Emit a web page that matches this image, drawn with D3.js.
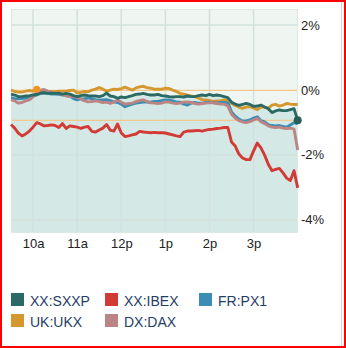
<!DOCTYPE html>
<html>
<head>
<meta charset="utf-8">
<script src="https://cdn.jsdelivr.net/npm/d3@7"></script>
<style>
  html, body { margin: 0; padding: 0; background: #fff; }
  svg { display: block; font-family: Arial, "Liberation Sans", sans-serif; }
</style>
</head>
<body>
<svg id="chart" width="346" height="348"></svg>
<script>
// Intraday % change of European indices, 5-minute points from 9:30 to 16:00
const sessionStart = new Date(2020, 0, 2, 9, 30);
const stepMinutes = 5;

const seriesNames = ["XX:SXXP", "XX:IBEX", "FR:PX1", "UK:UKX", "DX:DAX"];
const seriesColors = ["#2b6a64", "#d23a35", "#3c8db3", "#d4982f", "#ba8584"];

const sxxp = [-0.13,-0.16,-0.21,-0.21,-0.19,-0.18,-0.16,-0.14,-0.10,-0.09,
  -0.11,-0.10,-0.11,-0.10,-0.13,-0.11,-0.13,-0.18,-0.21,-0.18,
  -0.16,-0.18,-0.19,-0.19,-0.21,-0.18,-0.10,-0.19,-0.21,-0.26,
  -0.22,-0.24,-0.21,-0.18,-0.14,-0.13,-0.11,-0.14,-0.16,-0.16,
  -0.14,-0.18,-0.19,-0.21,-0.22,-0.21,-0.21,-0.22,-0.19,-0.21,
  -0.21,-0.18,-0.16,-0.18,-0.14,-0.18,-0.16,-0.18,-0.21,-0.24,
  -0.38,-0.44,-0.48,-0.45,-0.42,-0.45,-0.51,-0.50,-0.47,-0.53,
  -0.58,-0.70,-0.65,-0.62,-0.64,-0.64,-0.61,-0.58,-0.94];

const ibex = [-1.07,-1.18,-1.33,-1.42,-1.36,-1.27,-1.15,-1.01,-1.05,-1.11,
  -1.10,-1.08,-1.10,-1.16,-1.04,-1.19,-1.11,-1.13,-1.15,-1.19,
  -1.15,-1.13,-1.28,-1.30,-1.24,-1.18,-1.07,-1.24,-1.27,-1.05,
  -1.33,-1.44,-1.42,-1.39,-1.36,-1.28,-1.30,-1.31,-1.32,-1.31,
  -1.32,-1.32,-1.33,-1.36,-1.39,-1.42,-1.44,-1.30,-1.27,-1.27,
  -1.26,-1.25,-1.27,-1.24,-1.22,-1.21,-1.19,-1.18,-1.16,-1.16,
  -1.61,-1.73,-1.98,-2.10,-2.15,-2.15,-1.88,-1.64,-1.79,-2.01,
  -2.29,-2.49,-2.45,-2.42,-2.56,-2.72,-2.79,-2.49,-3.02];

const px1 = [-0.24,-0.27,-0.28,-0.27,-0.25,-0.22,-0.19,-0.16,-0.11,-0.09,
  -0.11,-0.13,-0.13,-0.14,-0.16,-0.16,-0.19,-0.27,-0.31,-0.28,
  -0.27,-0.25,-0.28,-0.30,-0.31,-0.31,-0.30,-0.33,-0.37,-0.39,
  -0.44,-0.52,-0.48,-0.44,-0.41,-0.39,-0.38,-0.37,-0.38,-0.36,
  -0.36,-0.33,-0.31,-0.31,-0.34,-0.38,-0.38,-0.44,-0.47,-0.41,
  -0.39,-0.41,-0.41,-0.39,-0.38,-0.39,-0.41,-0.39,-0.39,-0.40,
  -0.68,-0.81,-0.90,-0.96,-0.96,-0.93,-0.87,-0.83,-0.95,-0.99,
  -1.07,-1.10,-1.11,-1.10,-1.13,-1.15,-1.08,-1.01,-1.05];

const ukx = [-0.01,-0.05,-0.07,-0.07,-0.04,-0.02,-0.04,0.02,-0.05,-0.08,
  -0.07,-0.05,-0.06,-0.04,-0.04,-0.04,-0.02,-0.01,-0.09,-0.08,
  -0.05,-0.06,-0.01,0.02,0.07,0.02,-0.04,-0.01,0.02,0.01,
  0.04,0.08,0.04,-0.01,0.06,0.09,0.11,0.07,0.05,0.02,
  0.02,0.02,0.05,0.04,-0.01,-0.05,-0.11,-0.13,-0.16,-0.19,
  -0.21,-0.25,-0.30,-0.31,-0.33,-0.36,-0.34,-0.34,-0.31,-0.33,
  -0.42,-0.48,-0.53,-0.57,-0.53,-0.52,-0.56,-0.61,-0.53,-0.53,
  -0.57,-0.47,-0.45,-0.50,-0.47,-0.42,-0.44,-0.45,-0.45];

const dax = [-0.30,-0.34,-0.41,-0.39,-0.34,-0.31,-0.22,-0.07,-0.01,0.01,
  -0.04,-0.08,-0.10,-0.11,-0.14,-0.19,-0.21,-0.21,-0.22,-0.28,
  -0.34,-0.37,-0.36,-0.34,-0.36,-0.39,-0.38,-0.42,-0.38,-0.31,
  -0.38,-0.44,-0.42,-0.41,-0.36,-0.33,-0.31,-0.36,-0.40,-0.41,
  -0.42,-0.41,-0.37,-0.38,-0.41,-0.42,-0.41,-0.38,-0.37,-0.39,
  -0.42,-0.44,-0.42,-0.41,-0.40,-0.40,-0.42,-0.44,-0.44,-0.50,
  -0.75,-0.87,-0.95,-0.99,-1.01,-0.98,-0.93,-0.88,-0.98,-1.04,
  -1.11,-1.15,-1.16,-1.15,-1.18,-1.19,-1.18,-1.21,-1.85];

const seriesValues = [sxxp, ibex, px1, ukx, dax];

const previousClose = 0;
const eventIndex = 7;            // news marker on the UK:UKX line at 10:05
const xTickHours = [10, 11, 12, 13, 14, 15];
const xTickLabels = ["10a", "11a", "12p", "1p", "2p", "3p"];
const yTickValues = [2, 0, -2, -4];
const yTickLabels = ["2%", "0%", "-2%", "-4%"];

const times = sxxp.map((_, i) => d3.timeMinute.offset(sessionStart, i * stepMinutes));

const svg = d3.select("#chart");

// outer frame
svg.append("rect").attr("x", 1).attr("y", 1).attr("width", 344).attr("height", 346)
  .attr("fill", "none").attr("stroke", "#ff0000").attr("stroke-width", 2);
svg.append("line").attr("x1", 341.5).attr("x2", 341.5).attr("y1", 2).attr("y2", 346)
  .attr("stroke", "#d4d4d4").attr("stroke-width", 1);

const plot = { left: 11, right: 298, top: 9, bottom: 233 };

const x = d3.scaleTime()
  .domain([sessionStart, d3.timeMinute.offset(sessionStart, 390)])
  .range([plot.left, 297.7]);
const y = d3.scaleLinear().domain([-4.41, 2.49]).range([plot.bottom, plot.top]);

// plot background
svg.append("rect").attr("x", plot.left).attr("y", plot.top)
  .attr("width", plot.right - plot.left).attr("height", plot.bottom - plot.top)
  .attr("fill", "#eff5f1");

// shaded area beneath the main index
const area = d3.area().x((d, i) => x(times[i])).y0(plot.bottom).y1(d => y(d));
svg.append("path").datum(sxxp).attr("d", area).attr("fill", "#d4e9e5");

// grid
const tickTimes = xTickHours.map(h => new Date(2020, 0, 2, h, 0));
svg.append("g").selectAll("line").data(tickTimes).join("line")
  .attr("x1", d => x(d)).attr("x2", d => x(d))
  .attr("y1", plot.top).attr("y2", plot.bottom)
  .attr("stroke", "#d3e1dc").attr("stroke-width", 1.5);
svg.append("g").selectAll("line").data(yTickValues.filter(v => v !== previousClose)).join("line")
  .attr("x1", plot.left).attr("x2", plot.right)
  .attr("y1", d => y(d)).attr("y2", d => y(d))
  .attr("stroke", "#d3e1dc").attr("stroke-width", 1.5);

// previous close and last value reference lines
svg.append("line").attr("x1", plot.left).attr("x2", plot.right)
  .attr("y1", y(previousClose) + 0.5).attr("y2", y(previousClose) + 0.5)
  .attr("stroke", "#f3c88c").attr("stroke-width", 1.2);
svg.append("line").attr("x1", plot.left).attr("x2", plot.right)
  .attr("y1", y(sxxp[sxxp.length - 1])).attr("y2", y(sxxp[sxxp.length - 1]))
  .attr("stroke", "#f3c88c").attr("stroke-width", 1.2);

svg.append("rect").attr("x", plot.left + 0.5).attr("y", plot.top + 0.5)
  .attr("width", plot.right - plot.left - 1).attr("height", plot.bottom - plot.top - 1)
  .attr("fill", "none").attr("stroke", "#dde8e4").attr("stroke-width", 1);

// index lines
const line = d3.line().x((d, i) => x(times[i])).y(d => y(d));
const drawOrder = [1, 3, 2, 4, 0];
svg.append("g").selectAll("path").data(drawOrder).join("path")
  .attr("d", k => line(seriesValues[k]))
  .attr("fill", "none")
  .attr("stroke", k => seriesColors[k])
  .attr("stroke-width", 2.9)
  .attr("stroke-linejoin", "round");

// markers
svg.append("circle").attr("cx", x(times[eventIndex])).attr("cy", y(ukx[eventIndex]))
  .attr("r", 3.5).attr("fill", "#f7941d");
svg.append("circle").attr("cx", x(times[times.length - 1])).attr("cy", y(sxxp[sxxp.length - 1]))
  .attr("r", 4).attr("fill", "#23605a");

// axes
const xAxis = d3.axisBottom(x).tickValues(tickTimes)
  .tickFormat((d, i) => xTickLabels[i]).tickSize(0).tickPadding(0);
const gx = svg.append("g").attr("transform", `translate(0,${plot.bottom})`).call(xAxis);
gx.select(".domain").remove();
gx.selectAll("text").attr("y", 15).attr("dy", 0)
  .attr("font-size", 13).attr("font-family", "Arial, 'Liberation Sans', sans-serif")
  .attr("fill", "#222");

const yAxis = d3.axisRight(y).tickValues(yTickValues)
  .tickFormat((d, i) => yTickLabels[i]).tickSize(0).tickPadding(3);
const gy = svg.append("g").attr("transform", `translate(${plot.right},0)`).call(yAxis);
gy.select(".domain").remove();
gy.selectAll("text").attr("font-size", 13)
  .attr("font-family", "Arial, 'Liberation Sans', sans-serif").attr("fill", "#222");

// legend
const legendCols = [11, 105, 199];
const legendRows = [293, 314];
const legend = svg.append("g").selectAll("g").data(seriesNames).join("g")
  .attr("transform", (d, i) => `translate(${legendCols[i % 3]},${legendRows[Math.floor(i / 3)]})`);
legend.append("rect").attr("width", 13).attr("height", 13)
  .attr("fill", (d, i) => seriesColors[i]);
legend.append("text").attr("x", 19).attr("y", 12.5)
  .attr("font-size", 14).attr("fill", "#1f3d66")
  .text(d => d);
</script>
</body>
</html>
